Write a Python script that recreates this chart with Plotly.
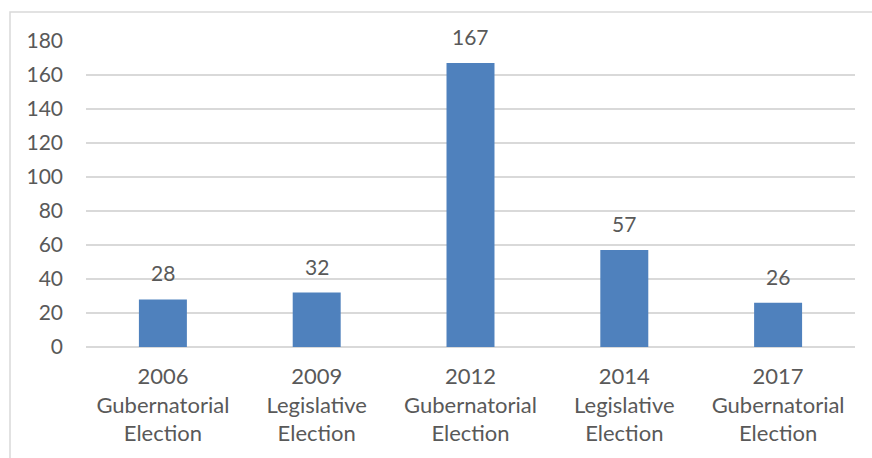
import plotly.graph_objects as go

categories = [
    "2006<br>Gubernatorial<br>Election",
    "2009<br>Legislative<br>Election",
    "2012<br>Gubernatorial<br>Election",
    "2014<br>Legislative<br>Election",
    "2017<br>Gubernatorial<br>Election",
]
values = [28, 32, 167, 57, 26]
y_ticks = [0, 20, 40, 60, 80, 100, 120, 140, 160, 180]

W, H = 872, 458
ML, MR, MT, MB = 86, 17, 41, 111
PW = W - ML - MR
PH = H - MT - MB

FONT = "Lato, Open Sans, sans-serif"
TEXT = "#595959"
GRID = "#d9d9d9"

fig = go.Figure(
    go.Bar(
        x=categories,
        y=values,
        marker=dict(color="#4f81bd", line=dict(width=0)),
        hoverinfo="x+y",
    )
)

# value labels above each bar
for cat, v in zip(categories, values):
    fig.add_annotation(
        x=cat, y=v, xref="x", yref="y",
        text=str(v), showarrow=False,
        yanchor="bottom", yshift=12,
        font=dict(family=FONT, size=21, color=TEXT),
    )

# frame around the chart area (top and left edges visible)
def px_x(px):
    return (px - ML) / PW

def px_y(py):
    return 1 - (py - MT) / PH

fig.add_shape(
    type="path",
    xref="paper", yref="paper",
    path=f"M {px_x(10)} {px_y(460)} L {px_x(10)} {px_y(12)} L {px_x(874)} {px_y(12)}",
    line=dict(color=GRID, width=1.5),
)

fig.update_layout(
    width=W, height=H,
    margin=dict(l=ML, r=MR, t=MT, b=MB),
    paper_bgcolor="white",
    plot_bgcolor="white",
    bargap=0.688,
    showlegend=False,
    font=dict(family=FONT, size=21, color=TEXT),
)
fig.update_yaxes(
    range=[0, 180],
    tickvals=y_ticks,
    showgrid=True, gridcolor=GRID, gridwidth=1.5,
    zeroline=True, zerolinecolor=GRID, zerolinewidth=1.5,
    showline=False,
    ticks="", ticklabelstandoff=22,
    tickfont=dict(family=FONT, size=21, color=TEXT),
)
fig.update_xaxes(
    showline=False, showgrid=False, ticks="",
    ticklabelstandoff=14,
    tickfont=dict(family=FONT, size=22, color=TEXT),
)

fig.write_html("out.html")
